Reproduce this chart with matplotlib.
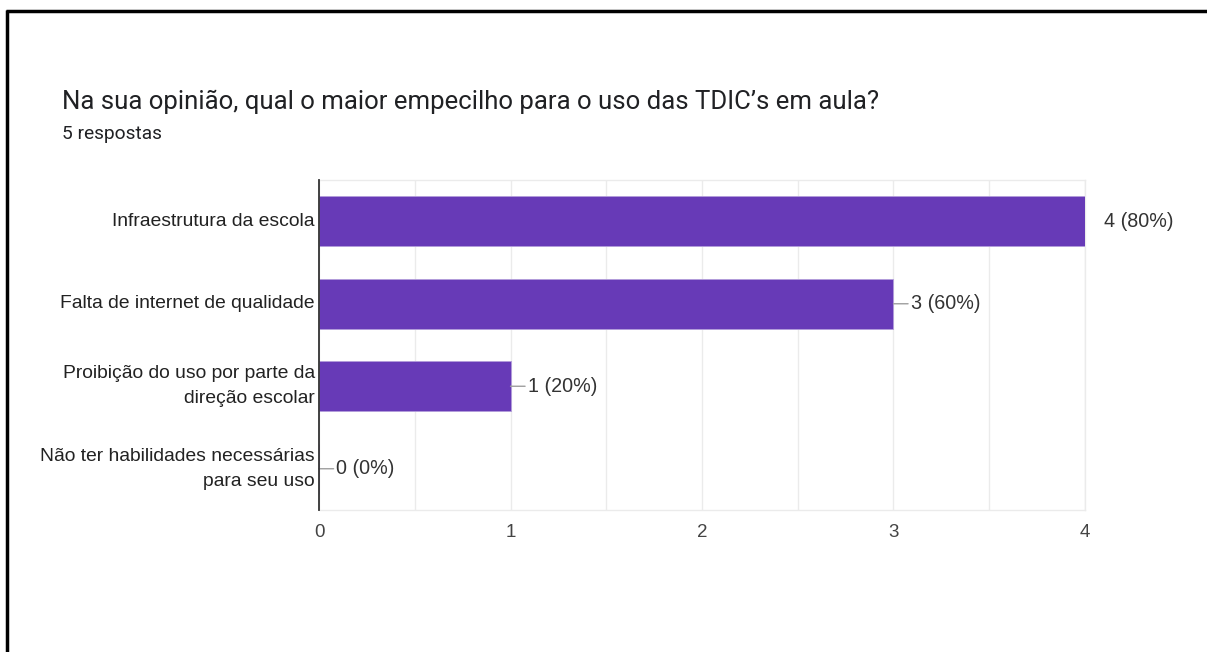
import matplotlib.pyplot as plt
from matplotlib.lines import Line2D

# Respostas do formulário
categorias = [
    "Infraestrutura da escola",
    "Falta de internet de qualidade",
    "Proibição do uso por parte da\ndireção escolar",
    "Não ter habilidades necessárias\npara seu uso",
]
respostas = [4, 3, 1, 0]
total = 5
xticks = [0, 1, 2, 3, 4]

plt.rcParams['font.family'] = ['Liberation Sans', 'DejaVu Sans']

fig = plt.figure(figsize=(12.07, 6.52), dpi=100)
ax = fig.add_axes([0.2643, 0.2178, 0.6346, 0.5061])

pos = list(range(len(categorias)))
ax.barh(pos, respostas, height=0.61, color='#673ab7',
        edgecolor='#b39ddb', linewidth=0.6, zorder=3)

ax.set_ylim(len(categorias) - 0.5, -0.5)
ax.set_xlim(0, 4)
ax.set_yticks(pos)
ax.set_yticklabels(categorias, fontsize=13.9, color='#222222', linespacing=1.62,
                   va='center')
ax.set_xticks(xticks)
ax.set_xticklabels([str(v) for v in xticks], fontsize=13.5, color='#444444')
ax.set_xticks([0.5, 1.5, 2.5, 3.5], minor=True)
ax.tick_params(axis='both', which='both', length=0)
ax.tick_params(axis='x', pad=10)
ax.tick_params(axis='y', pad=3)

ax.grid(axis='x', which='both', color='#ebebeb', linewidth=1, zorder=0)
for lado in ['top', 'right', 'bottom']:
    ax.spines[lado].set_color('#ebebeb')
    ax.spines[lado].set_linewidth(1)
ax.spines['left'].set_color('#333333')
ax.spines['left'].set_linewidth(1.3)
ax.spines['left'].set_zorder(4)

# Rótulos com contagem e porcentagem
for i, v in enumerate(respostas):
    texto = f"{v} ({v / total * 100:.0f}%)"
    if v == max(respostas):
        ax.annotate(texto, xy=(v, i), xytext=(14, 0), textcoords='offset points',
                    va='center', ha='left', fontsize=14.2, color='#333333')
    else:
        ax.annotate(texto, xy=(v, i), xytext=(12.5, 0), textcoords='offset points',
                    va='center', ha='left', fontsize=14.2, color='#333333',
                    arrowprops=dict(arrowstyle='-', color='#9e9e9e', lw=1,
                                    shrinkA=0, shrinkB=0))

# Título e subtítulo
fig.text(62 / 1207, 1 - 102 / 652, "Na sua opinião, qual o maior empecilho para o uso das TDIC’s em aula?",
         fontsize=18.55, color='#202124', va='center', ha='left',
         family=['Roboto', 'DejaVu Sans'])
fig.text(62 / 1207, 1 - 134 / 652, "5 respostas", fontsize=13.8, color='#202124',
         va='center', ha='left', family=['Roboto', 'DejaVu Sans'])

# Moldura
fig.add_artist(Line2D([6 / 1207, 1], [1 - 11 / 652, 1 - 11 / 652],
                      transform=fig.transFigure, color='black', linewidth=2.5,
                      solid_capstyle='butt'))
fig.add_artist(Line2D([7 / 1207, 7 / 1207], [0, 1 - 10 / 652],
                      transform=fig.transFigure, color='black', linewidth=2.5,
                      solid_capstyle='butt'))

fig.savefig('out.png', dpi=100, facecolor='white')
